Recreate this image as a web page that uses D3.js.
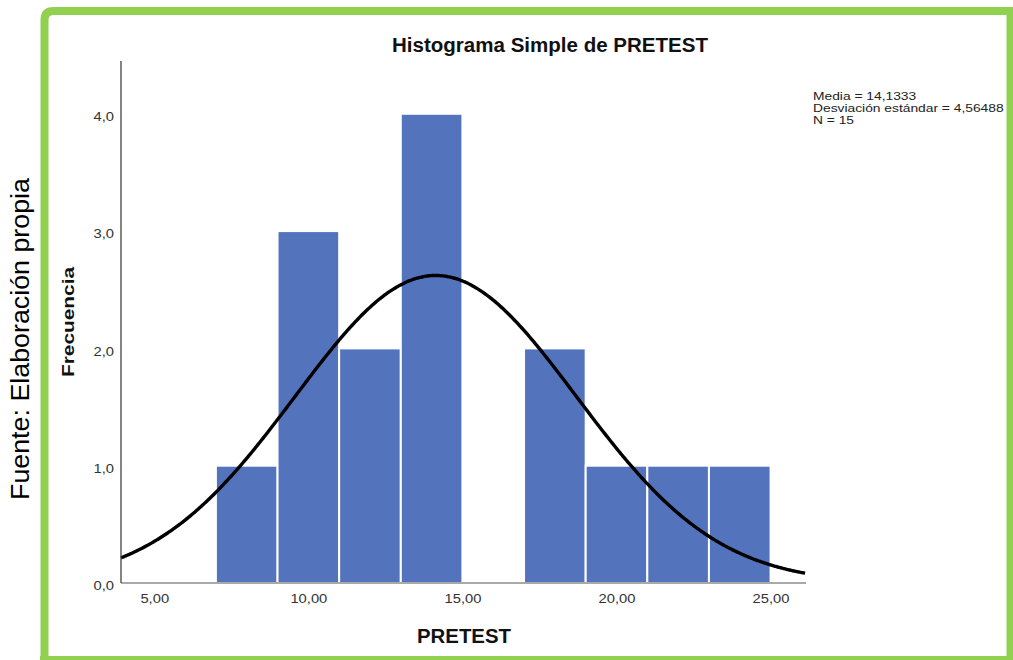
<!DOCTYPE html>
<html><head><meta charset="utf-8">
<script src="https://cdn.jsdelivr.net/npm/d3@7"></script>
<style>body{margin:0;background:#fff}svg{display:block}</style>
</head><body>
<script>
const binStarts = [7, 9, 11, 13, 15, 17, 19, 21, 23];
const binWidth = 2;
const counts = [1, 3, 2, 4, 0, 2, 1, 1, 1];
const xTicks = [5, 10, 15, 20, 25];
const yTicks = [0, 1, 2, 3, 4];
const mean = 14.1333, sd = 4.56488, n = 15;
const statLines = ["Media = 14,1333", "Desviación estándar = 4,56488", "N = 15"];

const W = 1013, H = 660;
const ff = "Arial, 'Liberation Sans', sans-serif";
const svg = d3.select("body").append("svg").attr("width", W).attr("height", H);

function stretch(sel, f) {
  sel.each(function () {
    const L = this.getComputedTextLength();
    d3.select(this).attr("textLength", L * f).attr("lengthAdjust", "spacingAndGlyphs");
  });
}

// green frame
svg.append("path")
  .attr("d", "M44.5,664 L44.5,20 Q44.5,11 53.5,11 L1010.5,11 L1010.5,664")
  .attr("fill", "none").attr("stroke", "#92d050").attr("stroke-width", 8);
svg.append("line").attr("x1", 40).attr("x2", 1013).attr("y1", 658.5).attr("y2", 658.5)
  .attr("stroke", "#92d050").attr("stroke-width", 5);
svg.append("rect").attr("x", 1009).attr("y", 7).attr("width", 4).attr("height", 660).attr("fill", "#92d050");

const x = d3.scaleLinear().domain([3.92, 26.15]).range([121, 806]);
const y = d3.scaleLinear().domain([0, 4.45]).range([583, 61]);

// bars
svg.append("g").selectAll("rect").data(binStarts.map((s, i) => ({s, c: counts[i]})).filter(d => d.c > 0))
  .join("rect")
  .attr("x", d => x(d.s)).attr("width", d => x(d.s + binWidth) - x(d.s))
  .attr("y", d => y(d.c)).attr("height", d => y(0) - y(d.c))
  .attr("fill", "#5473bd").attr("stroke", "#ffffff").attr("stroke-width", 2);

// normal curve
const pts = d3.range(x.domain()[0], x.domain()[1] + 0.001, 0.05).map(v => [v,
  n * binWidth * Math.exp(-0.5 * Math.pow((v - mean) / sd, 2)) / (sd * Math.sqrt(2 * Math.PI))]);
svg.append("path").datum(pts)
  .attr("d", d3.line().x(d => x(d[0])).y(d => y(d[1])).curve(d3.curveBasis))
  .attr("fill", "none").attr("stroke", "#000").attr("stroke-width", 3.4);

// axes
const xa = svg.append("g").attr("transform", "translate(0,583)")
  .call(d3.axisBottom(x).tickValues(xTicks).tickSize(0).tickPadding(11)
    .tickFormat(d => d3.format(".2f")(d).replace(".", ",")));
xa.select(".domain").attr("stroke", "#555").attr("stroke-width", 1.2).attr("d", "M121,0H806");
xa.selectAll("text").attr("font-family", ff).attr("font-size", 12.5).attr("fill", "#333");
stretch(xa.selectAll("text"), 1.18);

const ya = svg.append("g").attr("transform", "translate(121,0)")
  .call(d3.axisLeft(y).tickValues(yTicks).tickSize(0).tickPadding(7)
    .tickFormat(d => d3.format(".1f")(d).replace(".", ",")));
ya.select(".domain").attr("stroke", "#333").attr("stroke-width", 1.2).attr("d", "M0,583V61");
ya.selectAll("text").attr("font-family", ff).attr("font-size", 12.5).attr("fill", "#333").attr("dy", "0.55em");
stretch(ya.selectAll("text"), 1.18);

svg.append("text").attr("x", 550).attr("y", 52).attr("text-anchor", "middle")
  .attr("font-family", ff).attr("font-weight", "bold").attr("font-size", 20).attr("fill", "#111")
  .attr("textLength", 316).attr("lengthAdjust", "spacingAndGlyphs")
  .text("Histograma Simple de PRETEST");
svg.append("text").attr("x", 464).attr("y", 643).attr("text-anchor", "middle")
  .attr("font-family", ff).attr("font-weight", "bold").attr("font-size", 20.5).attr("fill", "#111")
  .attr("textLength", 94).attr("lengthAdjust", "spacingAndGlyphs")
  .text("PRETEST");
svg.append("text").attr("transform", "translate(74,322) rotate(-90)").attr("text-anchor", "middle")
  .attr("font-family", ff).attr("font-weight", "bold").attr("font-size", 17).attr("fill", "#111")
  .attr("textLength", 110).attr("lengthAdjust", "spacingAndGlyphs")
  .text("Frecuencia");
svg.append("text").attr("transform", "translate(29,339) rotate(-90)").attr("text-anchor", "middle")
  .attr("font-family", ff).attr("font-size", 25).attr("fill", "#000")
  .attr("textLength", 322).attr("lengthAdjust", "spacingAndGlyphs")
  .text("Fuente: Elaboración propia");

const st = svg.append("g").selectAll("text").data(statLines).join("text")
  .attr("x", 813).attr("y", (d, i) => 100 + i * 12)
  .attr("font-family", ff).attr("font-size", 11.5).attr("fill", "#222")
  .text(d => d);
stretch(st, 1.2);
</script>
</body></html>
